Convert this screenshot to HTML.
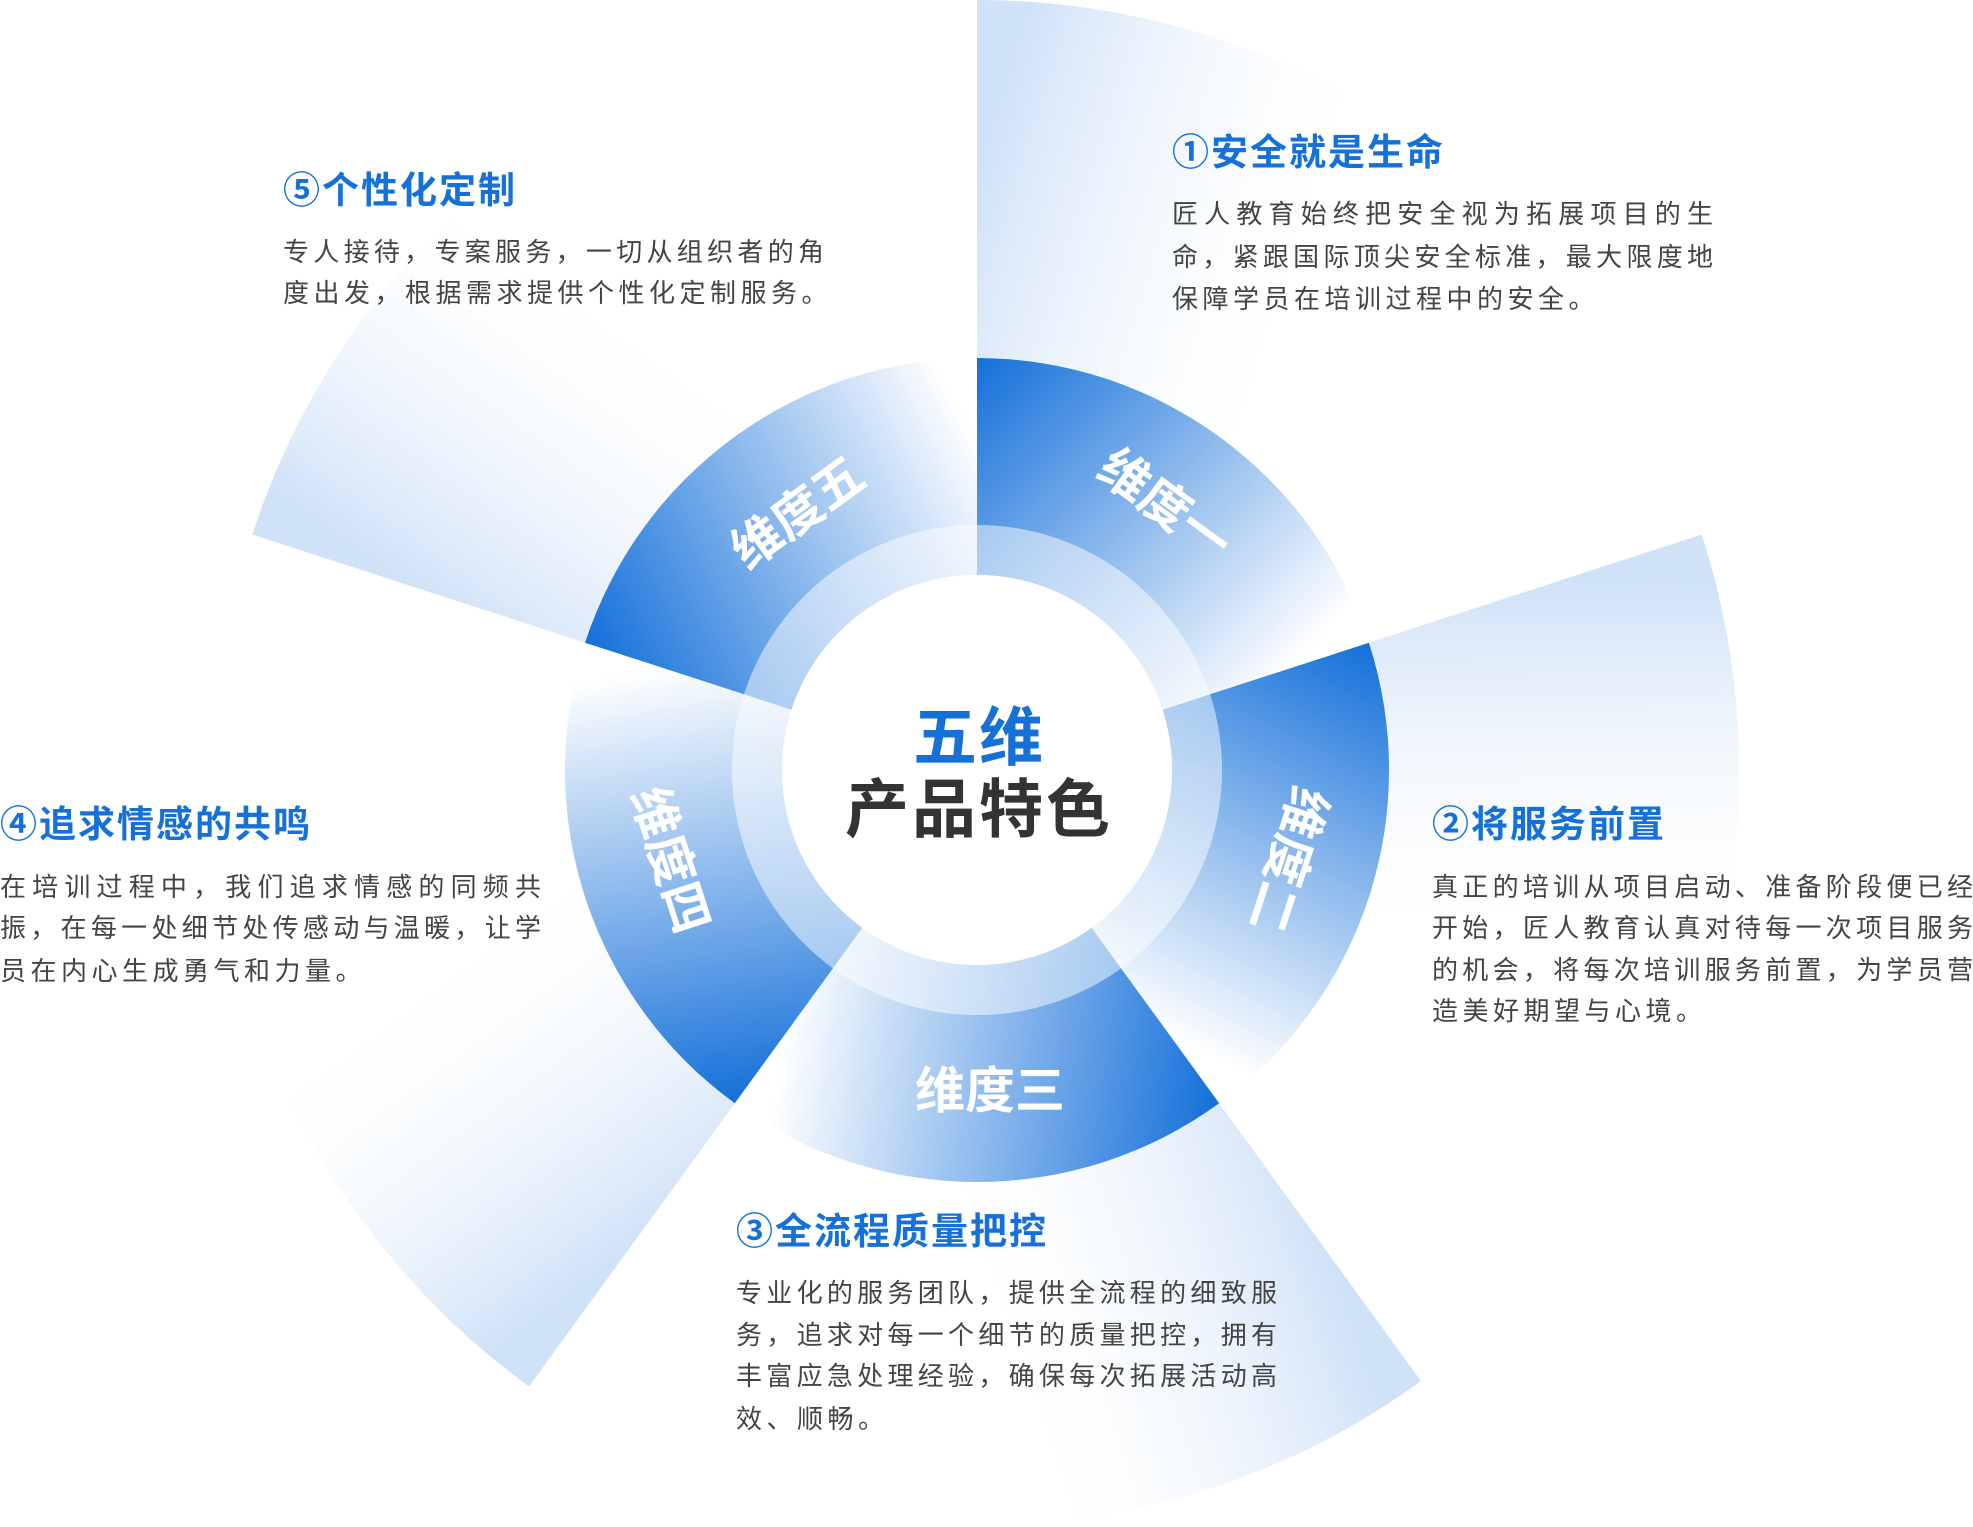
<!DOCTYPE html>
<html><head><meta charset="utf-8">
<style>
html,body{margin:0;padding:0;background:#fff;}
#w{position:relative;width:1973px;height:1527px;overflow:hidden;background:#fff;font-family:"Liberation Sans","Noto Sans CJK SC",sans-serif;}
svg{position:absolute;left:0;top:0;}
.t{position:absolute;font-size:37px;font-weight:bold;color:#1570d8;line-height:44px;letter-spacing:2px;white-space:nowrap;}
.l{position:absolute;font-size:26px;color:#444;line-height:42px;width:541px;white-space:nowrap;text-align:justify;text-align-last:justify;}
.l.e{text-align-last:left;letter-spacing:4.5px;}
</style></head><body><div id="w">
<svg width="1973" height="1527" viewBox="0 0 1973 1527">
<defs>
<linearGradient id="f1" gradientUnits="userSpaceOnUse" x1="977" y1="170" x2="1321.2" y2="278.6"><stop offset="0" stop-color="#d0e2f7"/><stop offset="1" stop-color="#fff" stop-opacity="0"/></linearGradient>
<linearGradient id="f2" gradientUnits="userSpaceOnUse" x1="1547.7" y1="584.6" x2="1550.8" y2="945.4"><stop offset="0" stop-color="#d0e2f7"/><stop offset="1" stop-color="#fff" stop-opacity="0"/></linearGradient>
<linearGradient id="f3" gradientUnits="userSpaceOnUse" x1="1329.7" y1="1255.4" x2="987.5" y2="1369.9"><stop offset="0" stop-color="#d0e2f7"/><stop offset="1" stop-color="#fff" stop-opacity="0"/></linearGradient>
<linearGradient id="f4" gradientUnits="userSpaceOnUse" x1="624.3" y1="1255.4" x2="409.7" y2="965.3"><stop offset="0" stop-color="#d0e2f7"/><stop offset="1" stop-color="#fff" stop-opacity="0"/></linearGradient>
<linearGradient id="f5" gradientUnits="userSpaceOnUse" x1="406.4" y1="584.6" x2="615.9" y2="290.8"><stop offset="0" stop-color="#d0e2f7"/><stop offset="1" stop-color="#fff" stop-opacity="0"/></linearGradient>
<linearGradient id="m1" gradientUnits="userSpaceOnUse" x1="977" y1="358" x2="1290.9" y2="668"><stop offset="0" stop-color="#1470d9"/><stop offset="1" stop-color="#fff"/></linearGradient>
<linearGradient id="m2" gradientUnits="userSpaceOnUse" x1="1368.9" y1="642.7" x2="1171" y2="1037"><stop offset="0" stop-color="#1470d9"/><stop offset="1" stop-color="#fff"/></linearGradient>
<linearGradient id="m3" gradientUnits="userSpaceOnUse" x1="1219.2" y1="1103.3" x2="783" y2="1037"><stop offset="0" stop-color="#1470d9"/><stop offset="1" stop-color="#fff"/></linearGradient>
<linearGradient id="m4" gradientUnits="userSpaceOnUse" x1="734.8" y1="1103.3" x2="663.1" y2="668"><stop offset="0" stop-color="#1470d9"/><stop offset="1" stop-color="#fff"/></linearGradient>
<linearGradient id="m5" gradientUnits="userSpaceOnUse" x1="585.1" y1="642.7" x2="977" y2="440"><stop offset="0" stop-color="#1470d9"/><stop offset="1" stop-color="#fff"/></linearGradient>
</defs>
<path d="M977 770 L977 0 A770 770 0 0 1 1709.3 532.1 Z" fill="url(#f1)"/>
<path d="M977 770 L1701.7 534.5 A762 762 0 0 1 1424.9 1386.5 Z" fill="url(#f2)"/>
<path d="M977 770 L1421 1381 A755 755 0 0 1 533 1381 Z" fill="url(#f3)"/>
<path d="M977 770 L529.1 1386.5 A762 762 0 0 1 252.3 534.5 Z" fill="url(#f4)"/>
<path d="M977 770 L252.3 534.5 A762 762 0 0 1 977 8 Z" fill="url(#f5)"/>
<circle cx="977" cy="770" r="412" fill="#fff"/>
<path d="M977 358 A412 412 0 0 1 1368.9 642.7 L1210 694.3 A245 245 0 0 0 977 525 Z" fill="url(#m1)"/>
<path d="M1368.9 642.7 A412 412 0 0 1 1219.2 1103.3 L1121 968.2 A245 245 0 0 0 1210 694.3 Z" fill="url(#m2)"/>
<path d="M1219.2 1103.3 A412 412 0 0 1 734.8 1103.3 L833 968.2 A245 245 0 0 0 1121 968.2 Z" fill="url(#m3)"/>
<path d="M734.8 1103.3 A412 412 0 0 1 585.1 642.7 L744 694.3 A245 245 0 0 0 833 968.2 Z" fill="url(#m4)"/>
<path d="M585.1 642.7 A412 412 0 0 1 977 358 L977 525 A245 245 0 0 0 744 694.3 Z" fill="url(#m5)"/>
<g opacity="0.5">
<path d="M977 525 A245 245 0 0 1 1210 694.3 L1162.5 709.7 A195 195 0 0 0 977 575 Z" fill="url(#m1)"/>
<path d="M1210 694.3 A245 245 0 0 1 1121 968.2 L1091.6 927.8 A195 195 0 0 0 1162.5 709.7 Z" fill="url(#m2)"/>
<path d="M1121 968.2 A245 245 0 0 1 833 968.2 L862.4 927.8 A195 195 0 0 0 1091.6 927.8 Z" fill="url(#m3)"/>
<path d="M833 968.2 A245 245 0 0 1 744 694.3 L791.5 709.7 A195 195 0 0 0 862.4 927.8 Z" fill="url(#m4)"/>
<path d="M744 694.3 A245 245 0 0 1 977 525 L977 575 A195 195 0 0 0 791.5 709.7 Z" fill="url(#m5)"/>
</g>
<circle cx="977" cy="770" r="195" fill="#fff"/>
<g font-family="Liberation Sans, Noto Sans CJK SC, sans-serif" font-weight="bold" font-size="50" fill="#fff" text-anchor="middle" dominant-baseline="central">
<text transform="translate(1165,505) rotate(36)">维度一</text>
<text transform="translate(1288,860) rotate(108)">维度二</text>
<text transform="translate(990,1091) rotate(0)">维度三</text>
<text transform="translate(670,860) rotate(72)">维度四</text>
<text transform="translate(798,513) rotate(-36)">维度五</text>
</g>
<g font-family="Liberation Sans, Noto Sans CJK SC, sans-serif" font-weight="bold" font-size="64" text-anchor="middle" dominant-baseline="central">
<text x="979" y="738" fill="#1570d8" letter-spacing="2">五维</text>
<text x="979" y="810" fill="#333" letter-spacing="3">产品特色</text>
</g>
</svg>

<div class="t" style="left:1172px;top:131px">①安全就是生命</div>
<div class="l" style="left:1172px;top:193px">匠人教育始终把安全视为拓展项目的生</div>
<div class="l" style="left:1172px;top:236px">命，紧跟国际顶尖安全标准，最大限度地</div>
<div class="l e" style="left:1172px;top:278px">保障学员在培训过程中的安全。</div>

<div class="t" style="left:283px;top:169px">⑤个性化定制</div>
<div class="l" style="left:283px;top:231px">专人接待，专案服务，一切从组织者的角</div>
<div class="l e" style="left:283px;top:272px">度出发，根据需求提供个性化定制服务。</div>

<div class="t" style="left:0px;top:803px">④追求情感的共鸣</div>
<div class="l" style="left:0px;top:866px">在培训过程中，我们追求情感的同频共</div>
<div class="l" style="left:0px;top:907px">振，在每一处细节处传感动与温暖，让学</div>
<div class="l e" style="left:0px;top:950px">员在内心生成勇气和力量。</div>

<div class="t" style="left:1432px;top:803px">②将服务前置</div>
<div class="l" style="left:1432px;top:866px">真正的培训从项目启动、准备阶段便已经</div>
<div class="l" style="left:1432px;top:907px">开始，匠人教育认真对待每一次项目服务</div>
<div class="l" style="left:1432px;top:949px">的机会，将每次培训服务前置，为学员营</div>
<div class="l e" style="left:1432px;top:990px">造美好期望与心境。</div>

<div class="t" style="left:736px;top:1210px">③全流程质量把控</div>
<div class="l" style="left:736px;top:1272px">专业化的服务团队，提供全流程的细致服</div>
<div class="l" style="left:736px;top:1314px">务，追求对每一个细节的质量把控，拥有</div>
<div class="l" style="left:736px;top:1355px">丰富应急处理经验，确保每次拓展活动高</div>
<div class="l e" style="left:736px;top:1398px">效、顺畅。</div>
</div></body></html>
